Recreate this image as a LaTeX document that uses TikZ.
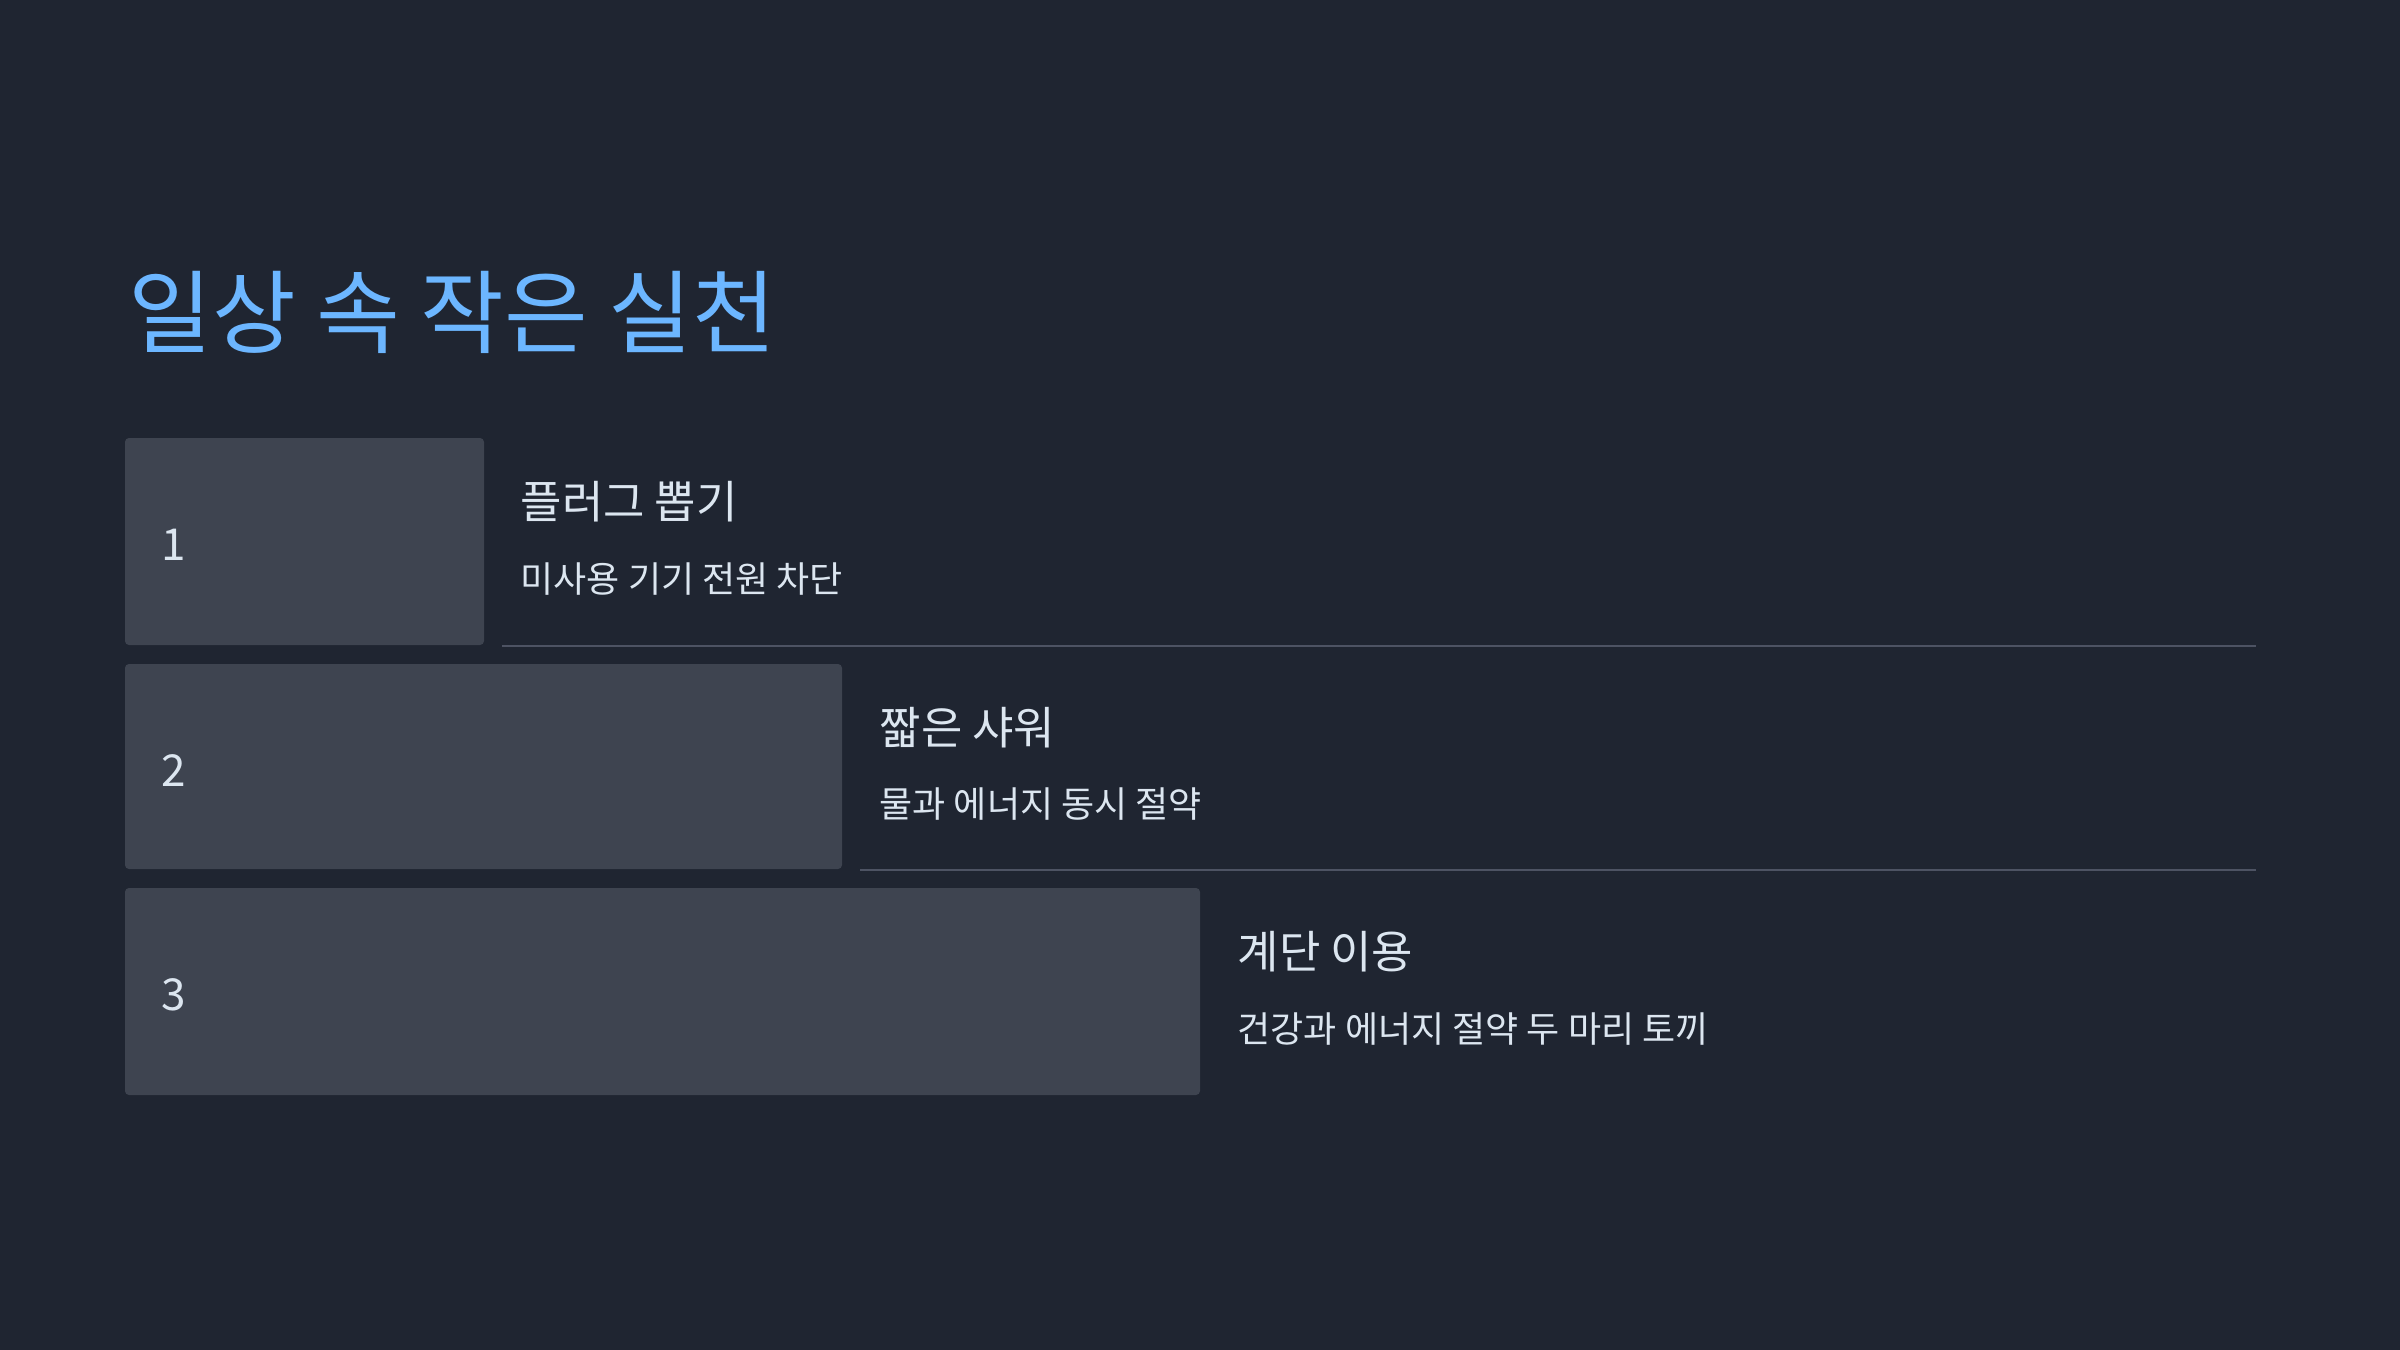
\documentclass[tikz,border=0pt]{standalone}
\usepackage{fontspec}
\setmainfont{Noto Sans CJK KR}
\definecolor{bgc}{HTML}{1F2531}
\definecolor{boxc}{HTML}{3E4450}
\definecolor{titlec}{HTML}{6CB6FF}
\definecolor{txtc}{HTML}{DCE6F0}
\definecolor{linec}{HTML}{4D5363}
\tikzset{
  stepbox/.style={fill=boxc, rounded corners=1.2pt, draw=none},
  numtxt/.style={anchor=base west, inner sep=0pt, text=txtc, font=\fontsize{13.2pt}{15pt}\selectfont},
  headtxt/.style={anchor=base west, inner sep=0pt, text=txtc, font=\fontsize{13.5pt}{16pt}\selectfont},
  subtxt/.style={anchor=base west, inner sep=0pt, text=txtc, font=\fontsize{10.8pt}{13pt}\selectfont},
  sepline/.style={draw=linec, line width=0.6pt}
}
\begin{document}
\begin{tikzpicture}[x=0.3pt,y=-0.3pt]
\fill[bgc] (0,0) rectangle (2400,1350);
\useasboundingbox (0,0) rectangle (2400,1350);
\node[anchor=base west, inner sep=0pt, text=titlec, font=\fontsize{27.3pt}{32pt}\selectfont] (title) at (128,346) {일상 속 작은 실천};
% boxes
\path[stepbox] (125,438) rectangle (484,645);
\path[stepbox] (125,664) rectangle (842,869);
\path[stepbox] (125,888) rectangle (1200,1095);
\node[numtxt] (n1) at (161,560) {1};
\node[numtxt] (n2) at (161,786) {2};
\node[numtxt] (n3) at (161,1010) {3};
\node[headtxt] (h1) at (520,518) {플러그 뽑기};
\node[subtxt] (s1) at (520,592) {미사용 기기 전원 차단};
\node[headtxt] (h2) at (879,744) {짧은 샤워};
\node[subtxt] (s2) at (879,817) {물과 에너지 동시 절약};
\node[headtxt] (h3) at (1237,968) {계단 이용};
\node[subtxt] (s3) at (1237,1042) {건강과 에너지 절약 두 마리 토끼};
\coordinate (l1a) at (502,646);
\coordinate (l1b) at (2256,646);
\coordinate (l2a) at (860,870);
\coordinate (l2b) at (2256,870);
\draw[sepline] (l1a) -- (l1b);
\draw[sepline] (l2a) -- (l2b);
\end{tikzpicture}
\end{document}
